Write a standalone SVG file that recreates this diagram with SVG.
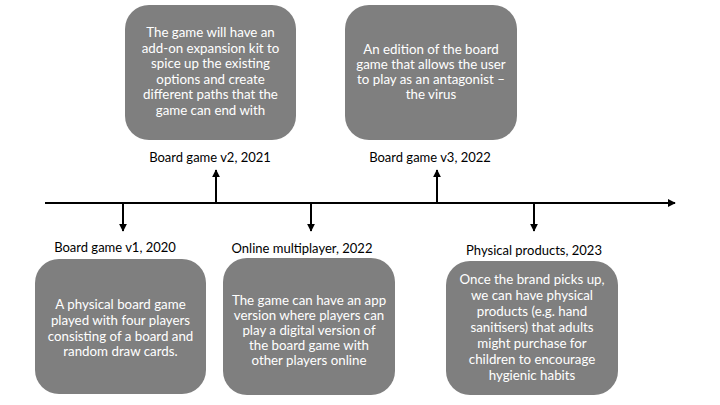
<svg xmlns="http://www.w3.org/2000/svg" width="720" height="405" viewBox="0 0 720 405">
<defs>
<marker id="ah" viewBox="0 0 10 10" refX="9" refY="5" markerWidth="4" markerHeight="4" orient="auto" markerUnits="strokeWidth">
<path d="M0,0 L10,5 L0,10 Z" fill="#000"/>
</marker>
<style>
.box{fill:#7f7f7f;}
.bt{font-family:Lato,"Liberation Sans",sans-serif;font-size:13.3px;fill:#fff;text-anchor:middle;}
.lb{font-family:Lato,"Liberation Sans",sans-serif;font-size:13px;fill:#000;text-anchor:middle;}
.ln{stroke:#000;stroke-width:2;fill:none;}
</style>
</defs>
<rect width="720" height="405" fill="#fff"/>
<g id="connectors">
<line class="ln" x1="45" y1="203" x2="675" y2="203" marker-end="url(#ah)"/>
<line class="ln" x1="216" y1="203" x2="216" y2="170" marker-end="url(#ah)"/>
<line class="ln" x1="437" y1="203" x2="437" y2="170" marker-end="url(#ah)"/>
<line class="ln" x1="123" y1="203" x2="123" y2="231" marker-end="url(#ah)"/>
<line class="ln" x1="311" y1="203" x2="311" y2="231" marker-end="url(#ah)"/>
<line class="ln" x1="534" y1="203" x2="534" y2="231" marker-end="url(#ah)"/>
</g>
<g id="v2">
<rect class="box" x="125" y="5" width="171" height="135" rx="24"/>
<text class="bt"><tspan x="210.5" y="37">The game will have an</tspan><tspan x="210.5" y="52.5">add-on expansion kit to</tspan><tspan x="210.5" y="68">spice up the existing</tspan><tspan x="210.5" y="83.5">options and create</tspan><tspan x="210.5" y="99">different paths that the</tspan><tspan x="210.5" y="114.5">game can end with</tspan></text>
<text class="lb" x="210" y="162">Board game v2, 2021</text>
</g>
<g id="v3">
<rect class="box" x="345" y="5" width="172" height="135" rx="24"/>
<text class="bt"><tspan x="431" y="54">An edition of the board</tspan><tspan x="431" y="69">game that allows the user</tspan><tspan x="431" y="84">to play as an antagonist –</tspan><tspan x="431" y="99">the virus</tspan></text>
<text class="lb" x="430" y="162">Board game v3, 2022</text>
</g>
<g id="v1">
<rect class="box" x="35" y="259" width="171" height="135" rx="24"/>
<text class="lb" x="115" y="252">Board game v1, 2020</text>
<text class="bt"><tspan x="120.5" y="309">A physical board game</tspan><tspan x="120.5" y="325">played with four players</tspan><tspan x="120.5" y="341">consisting of a board and</tspan><tspan x="120.5" y="356">random draw cards.</tspan></text>
</g>
<g id="online">
<rect class="box" x="223" y="258" width="172" height="137" rx="24"/>
<text class="lb" x="302" y="253">Online multiplayer, 2022</text>
<text class="bt"><tspan x="309" y="305">The game can have an app</tspan><tspan x="309" y="320">version where players can</tspan><tspan x="309" y="335">play a digital version of</tspan><tspan x="309" y="350">the board game with</tspan><tspan x="309" y="365">other players online</tspan></text>
</g>
<g id="physical">
<rect class="box" x="446" y="261" width="172" height="134" rx="24"/>
<text class="lb" x="534" y="255">Physical products, 2023</text>
<text class="bt"><tspan x="532" y="284">Once the brand picks up,</tspan><tspan x="532" y="299.5">we can have physical</tspan><tspan x="532" y="315.5">products (e.g. hand</tspan><tspan x="532" y="331.5">sanitisers) that adults</tspan><tspan x="532" y="347.5">might purchase for</tspan><tspan x="532" y="363.5">children to encourage</tspan><tspan x="532" y="379.5">hygienic habits</tspan></text>
</g>
</svg>
